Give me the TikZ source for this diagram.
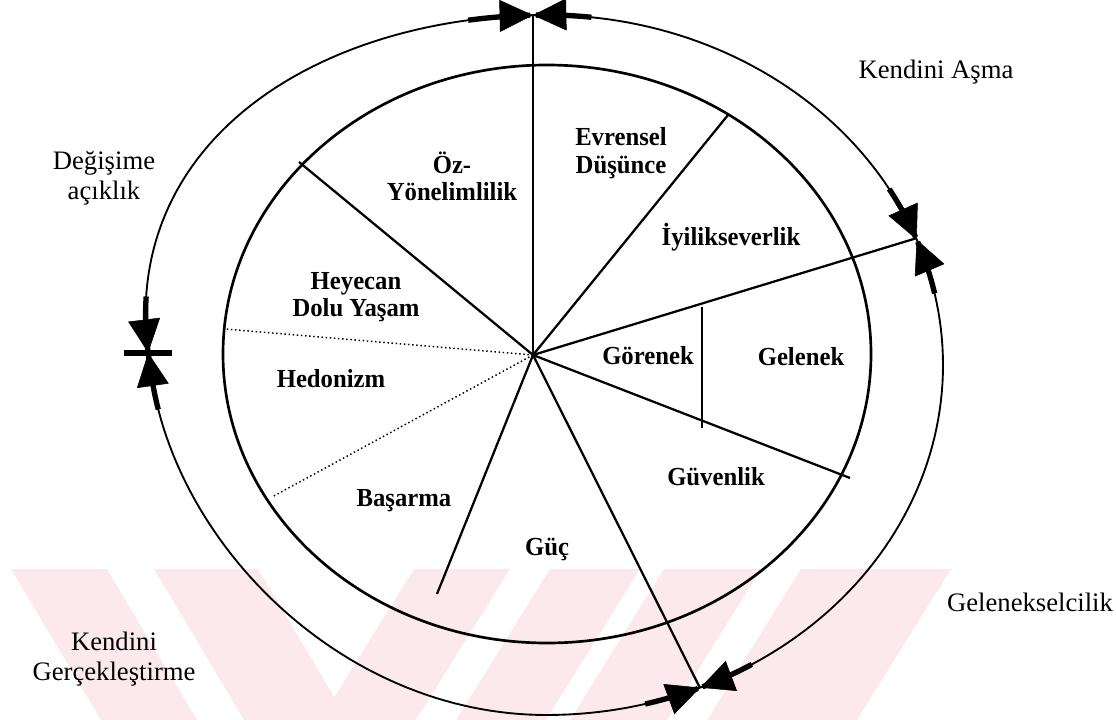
\documentclass[tikz,border=0pt]{standalone}
\usepackage{fontspec}
\setmainfont{Liberation Serif}
\newfontfamily\labbf{Liberation Serif}[FakeStretch=0.95]
\usetikzlibrary{arrows.meta}
\definecolor{wm}{RGB}{252,233,237}
\tikzset{
  lbl/.style={font=\labbf\bfseries\fontsize{19.5}{20.5}\selectfont, align=center, inner sep=0pt},
  reg/.style={font=\fontsize{20}{22.5}\selectfont, align=center, inner sep=0pt},
  spoke/.style={line width=1.7pt},
  dots/.style={line width=1.1pt, dotted},
  thickarr/.style={line width=4pt, -{Triangle[length=25pt,width=24pt,line width=0.4pt]}},
}
\def\ox{546.5}\def\oy{365}\def\orx{396.5}\def\ory{350}\def\osha{60}\def\oshb{40}
\newcommand{\outx}[1]{\ox+\orx*cos(#1)+(\osha*min(sin(#1),0)+\oshb*max(sin(#1),0))*max(-cos(#1),0)}
\newcommand{\outy}[1]{\oy+\ory*sin(#1)}
\newcommand{\arcarrow}[2]{\draw[thickarr] plot[domain=#1:#2, samples=24] ({\outx{\x}},{\outy{\x}});}
\begin{document}
\begin{tikzpicture}[x=0.75pt,y=-0.75pt]
\useasboundingbox (0,0) rectangle (1116,720);
% watermark
\fill[wm] (11,569) -- (107,569) -- (197,720) -- (101,720) -- cycle;
\fill[wm] (154,569) -- (258,569) -- (348,720) -- (244,720) -- cycle;
\fill[wm] (414,569) -- (510,569) -- (416,720) -- (320,720) -- cycle;
\fill[wm] (550,569) -- (640,569) -- (546,720) -- (456,720) -- cycle;
\fill[wm] (664,569) -- (761,569) -- (667,720) -- (570,720) -- cycle;
\fill[wm] (801,569) -- (951,569) -- (857,720) -- (707,720) -- cycle;
% ellipses
\draw[line width=2pt] (547,354) ellipse [x radius=243pt, y radius=216.75pt];
\draw[line width=1.4pt] plot[domain=0:360, samples=241] ({\outx{\x}},{\outy{\x}}) -- cycle;
% key points
\coordinate (C) at (533,355);
\coordinate (T) at (533,15);
\coordinate (R) at (917,238);
\coordinate (L) at (148,353);
\coordinate (B) at (700,688);
\coordinate (s1) at (299,162);
\coordinate (s2) at (728,115);
\coordinate (s3) at (850,478);
\coordinate (s4) at (437,594);
\coordinate (d1) at (272,497);
\coordinate (d2) at (225,329);
\coordinate (v1) at (702,307);
\coordinate (v2) at (702,428);
% spokes
\draw[line width=1.4pt] (C) -- (T);
\draw[spoke] (C) -- (s1);
\draw[spoke] (C) -- (s2);
\draw[spoke] (C) -- (R);
\draw[spoke] (C) -- (s3);
\draw[spoke] (C) -- (B);
\draw[spoke] (C) -- (s4);
\draw[spoke] (v1) -- (v2);
\draw[dots] (C) -- (d1);
\draw[dots] (C) -- (d2);
% arrows on outer ellipse
\arcarrow{-99.9}{-91.7}
\arcarrow{-83.5}{-91.7}
\arcarrow{-30.2}{-21}
\arcarrow{-11.8}{-21}
\arcarrow{58.8}{67.2}
\arcarrow{75.6}{67.2}
\arcarrow{172.7}{182}
\arcarrow{191.3}{182}
\draw[line width=4.2pt] (L) ++(-24,0) -- ++(48,0);
% labels
\node[lbl] (oz) at (452,176) {Öz-\\Yönelimlilik};
\node[lbl] (ev) at (621,153) {Evrensel\\Düşünce};
\node[lbl] (iy) at (731,237) {İyilikseverlik};
\node[lbl] (he) at (356,297) {Heyecan\\Dolu Yaşam};
\node[lbl] (hd) at (331,379) {Hedonizm};
\node[lbl] (gr) at (648,356) {Görenek};
\node[lbl] (gl) at (801,357) {Gelenek};
\node[lbl] (gv) at (716,477) {Güvenlik};
\node[lbl] (bs) at (404,501) {Başarma};
\node[lbl] (gc) at (547,549) {Güç};
\node[reg] (ka) at (936,72) {Kendini Aşma};
\node[reg] (da) at (104,178) {Değişime\\açıklık};
\node[reg] (gs) at (1030,602) {Gelenekselcilik};
\node[reg] (kg) at (114,659) {Kendini\\Gerçekleştirme};
\end{tikzpicture}
\end{document}
